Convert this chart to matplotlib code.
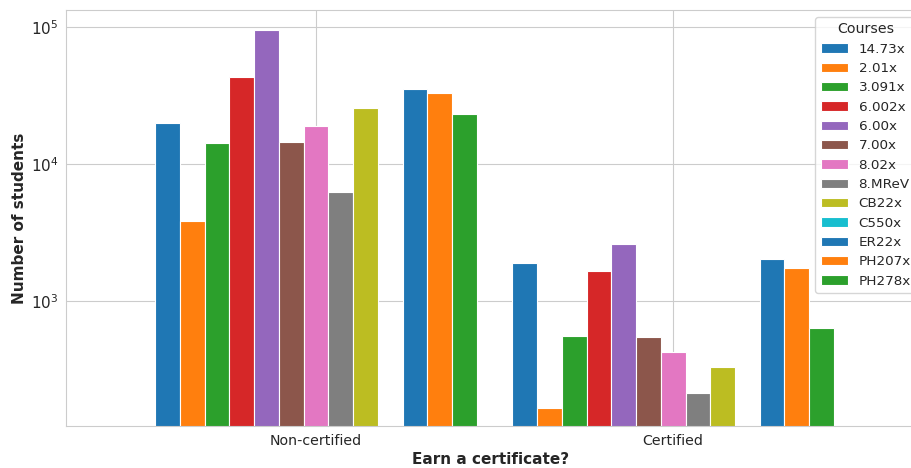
import numpy as np
import matplotlib
matplotlib.use("Agg")
import matplotlib.pyplot as plt
import seaborn as sns

categories = ["Non-certified", "Certified"]
courses = ["14.73x", "2.01x", "3.091x", "6.002x", "6.00x", "7.00x", "8.02x",
           "8.MReV", "CB22x", "C550x", "ER22x", "PH207x", "PH278x"]
non_certified = [19800, 3860, 14100, 43000, 95000, 14400, 18900,
                 6250, 25500, 0, 35100, 33100, 23300]
certified = [1885, 165, 555, 1665, 2620, 548, 422,
             212, 330, 0, 2015, 1733, 638]

sns.set_style("whitegrid")
plt.rcParams['font.family'] = ['DejaVu Sans']

fig = plt.figure(figsize=(9.12, 4.68), dpi=100)
ax = fig.add_axes([66 / 912, 42 / 468, 850 / 912, 416 / 468])

palette = sns.color_palette("tab10", 10)
colors = [palette[i % 10] for i in range(len(courses))]

n = len(courses)
group_width = 0.9
bw = group_width / n
x = np.arange(len(categories))
counts = np.array([non_certified, certified])  # rows: categories, cols: courses

for i, course in enumerate(courses):
    offs = -group_width / 2 + bw * (i + 0.5)
    vals = counts[:, i].astype(float)
    vals[vals == 0] = np.nan
    ax.bar(x + offs, vals, width=bw, color=colors[i], edgecolor="white",
           linewidth=0.8, label=course)

ax.set_yscale("log")
ax.set_ylim(122, 133000)
ax.set_xlim(-0.70, 1.68)
ax.set_xticks(x)
ax.set_xticklabels(categories, fontsize=10.2)
ax.tick_params(axis="x", pad=2)
ax.tick_params(axis="y", labelsize=11, pad=2)
ax.set_xlabel("Earn a certificate?", fontsize=11, fontweight="bold", labelpad=3)
ax.set_ylabel("Number of students", fontsize=11, fontweight="bold", labelpad=3)
ax.yaxis.set_minor_locator(matplotlib.ticker.NullLocator())

ax.legend(title="Courses", loc="upper left",
          bbox_to_anchor=(815.5 / 912, 1 - 17 / 468),
          bbox_transform=fig.transFigure, borderaxespad=0,
          fontsize=9.7, title_fontsize=10.2, handlelength=2.0,
          labelspacing=0.47)

fig.savefig("out.png", dpi=100)
